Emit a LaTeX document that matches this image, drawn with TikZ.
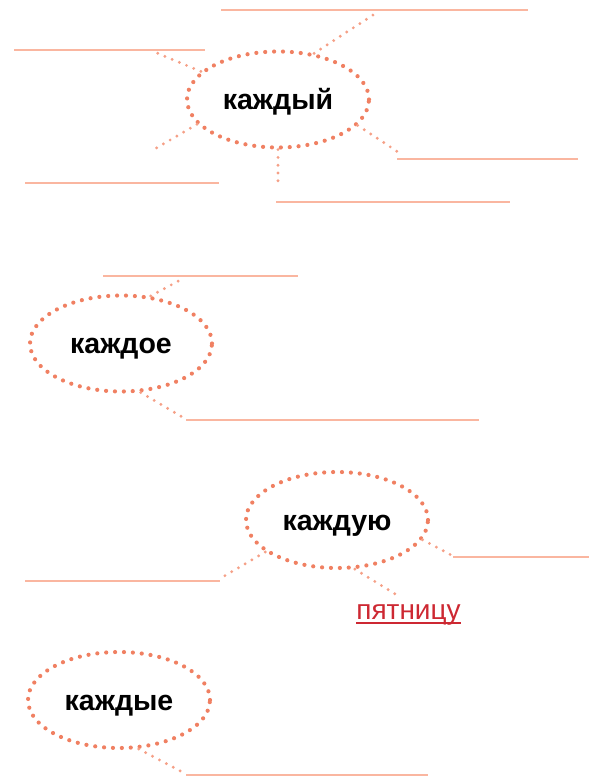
\documentclass[tikz,border=0pt]{standalone}
\usepackage{fontspec}
\setmainfont{Liberation Sans}
\usetikzlibrary{shapes.geometric}
\definecolor{dotc}{RGB}{240,128,98}
\definecolor{linec}{RGB}{250,182,160}
\definecolor{condot}{RGB}{245,160,135}
\definecolor{redtxt}{RGB}{205,40,50}
\newcommand{\redul}[1]{\setbox0=\hbox{#1}\dimen0=\wd0\rlap{\color{redtxt}\rule[-4.5pt]{\dimen0}{1.8pt}}\box0}
\tikzset{
  bubble/.style={ellipse, draw=dotc, line width=4.2pt, line cap=round,
    dash pattern=on 0pt off 8.9pt, minimum width=182pt, minimum height=96pt,
    inner sep=0pt, text height=20.5pt, text depth=0pt,
    font=\fontsize{28.5}{30}\selectfont\bfseries},
  conn/.style={draw=condot, line width=3.2pt, line cap=round, dash pattern=on 0pt off 7.8pt},
  blank/.style={draw=linec, line width=1.8pt},
  redword/.style={inner sep=0pt, text=redtxt, font=\fontsize{28}{30}\selectfont}
}
\begin{document}
\begin{tikzpicture}[x=1pt,y=-1pt]
\useasboundingbox (0,0) rectangle (591,779);
% ---------- каждый ----------
\node[bubble] (e1) at (278,99.5) {каждый};
\coordinate (t1a) at (221,10);  \coordinate (t1b) at (528,10);
\coordinate (l1a) at (14,50);   \coordinate (l1b) at (205,50);
\coordinate (b1a) at (25,183);  \coordinate (b1b) at (219,183);
\coordinate (r1a) at (397,159); \coordinate (r1b) at (578,159);
\coordinate (d1a) at (276,202); \coordinate (d1b) at (510,202);
\coordinate (c1a) at (373,15);
\coordinate (c1b) at (157,53);
\coordinate (c1c) at (153,150);
\coordinate (c1d) at (398,152);
\coordinate (c1e) at (278,188);
\draw[blank] (t1a) -- (t1b);
\draw[blank] (l1a) -- (l1b);
\draw[blank] (b1a) -- (b1b);
\draw[blank] (r1a) -- (r1b);
\draw[blank] (d1a) -- (d1b);
\draw[conn] (e1.52) -- (c1a);
\draw[conn] (e1.160) -- (c1b);
\draw[conn] (e1.197) -- (c1c);
\draw[conn] (e1.-18) -- (c1d);
\draw[conn] (e1.south) -- (c1e);
% ---------- каждое ----------
\node[bubble] (e2) at (121,343.5) {каждое};
\coordinate (t2a) at (103,276); \coordinate (t2b) at (298,276);
\coordinate (d2a) at (186,420); \coordinate (d2b) at (479,420);
\coordinate (c2a) at (184,278);
\coordinate (c2b) at (184,418);
\draw[blank] (t2a) -- (t2b);
\draw[blank] (d2a) -- (d2b);
\draw[conn] (e2.58) -- (c2a);
\draw[conn] (e2.-68) -- (c2b);
% ---------- каждую ----------
\node[bubble] (e3) at (337,520) {каждую};
\coordinate (r3a) at (453,557); \coordinate (r3b) at (589,557);
\coordinate (l3a) at (25,581);  \coordinate (l3b) at (220,581);
\coordinate (c3a) at (453,556);
\coordinate (c3b) at (221,578);
\coordinate (c3c) at (400,597);
\draw[blank] (r3a) -- (r3b);
\draw[blank] (l3a) -- (l3b);
\draw[conn] (e3.-13) -- (c3a);
\draw[conn] (e3.204) -- (c3b);
\draw[conn] (e3.-70) -- (c3c);
\node[redword, anchor=base] (w3) at (408.5,619) {\redul{пятницу}};
% ---------- каждые ----------
\node[bubble] (e4) at (119,700) {каждые};
\coordinate (d4a) at (186,775); \coordinate (d4b) at (428,775);
\coordinate (c4a) at (184,773);
\draw[blank] (d4a) -- (d4b);
\draw[conn] (e4.-68) -- (c4a);
\end{tikzpicture}
\end{document}
